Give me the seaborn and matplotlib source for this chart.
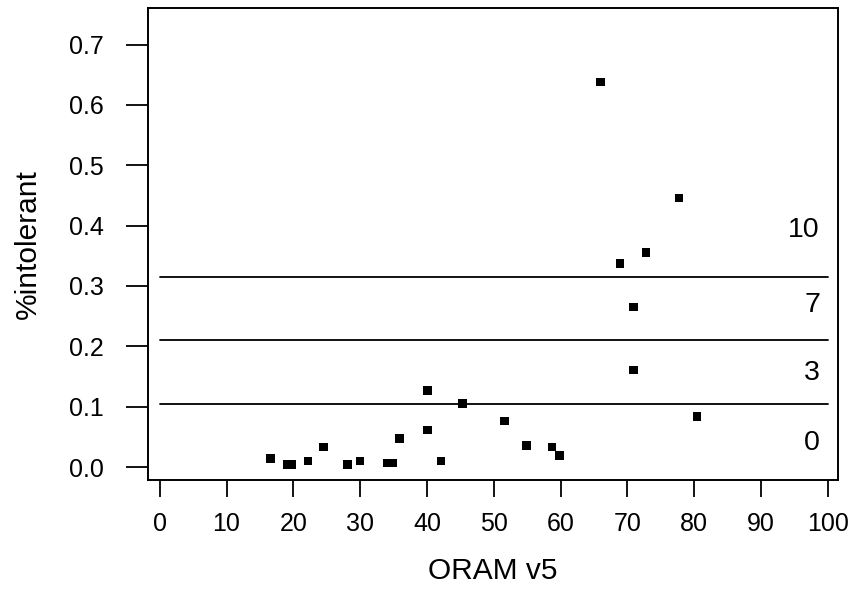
import matplotlib
matplotlib.use("Agg")
import matplotlib.pyplot as plt
import seaborn as sns
import pandas as pd

# ORAM v5 score and fraction of intolerant taxa per site
oram = [16.6, 19.1, 19.7, 22.2, 24.5, 28.1, 30.0, 34.0, 34.9, 35.9,
        40.1, 40.1, 42.1, 45.3, 51.6, 54.9, 58.7, 59.8, 66.0, 68.9,
        70.9, 70.9, 72.8, 77.7, 80.4]
intolerant = [0.014, 0.004, 0.004, 0.010, 0.033, 0.004, 0.010, 0.007, 0.007, 0.047,
              0.127, 0.061, 0.010, 0.105, 0.076, 0.036, 0.033, 0.019, 0.638, 0.337,
              0.265, 0.161, 0.355, 0.446, 0.084]

# Metric scoring breakpoints and the score assigned within each band
breaks = [0.105, 0.21, 0.315]
score_labels = ["10", "7", "3", "0"]
score_label_y = [0.392, 0.268, 0.156, 0.040]

x_ticks = list(range(0, 101, 10))
y_ticks = [0.0, 0.1, 0.2, 0.3, 0.4, 0.5, 0.6, 0.7]

df = pd.DataFrame({"ORAM v5": oram, "%intolerant": intolerant})

sns.set_style("white")
plt.rcParams["font.family"] = ["Liberation Sans", "DejaVu Sans"]
plt.rcParams["text.color"] = "black"
plt.rcParams["axes.labelcolor"] = "black"
plt.rcParams["xtick.color"] = "black"
plt.rcParams["ytick.color"] = "black"

fig = plt.figure(figsize=(8.54, 5.91), dpi=100)
ax = fig.add_axes([148 / 854, 1 - 480 / 591, 690 / 854, 472 / 591])

sns.scatterplot(data=df, x="ORAM v5", y="%intolerant", ax=ax,
                marker="s", s=38, color="black", edgecolor="none", linewidth=0)

for b in breaks:
    ax.plot([0, 100], [b, b], color="black", lw=1.3)

for lab, yy in zip(score_labels, score_label_y):
    ax.text(98.8, yy, lab, ha="right", va="center", fontsize=20.5, color="black")

ax.set_xlim(-1.75, 101.5)
ax.set_ylim(-0.0215, 0.7605)
ax.set_xticks(x_ticks)
ax.set_xticklabels([str(t) for t in x_ticks], fontsize=18)
ax.set_yticks(y_ticks)
ax.set_yticklabels([f"{t:.1f}" for t in y_ticks], fontsize=18)
ax.tick_params(axis="x", direction="out", length=12, width=1.3, pad=11,
               colors="black", bottom=True)
ax.tick_params(axis="y", direction="out", length=16, width=1.3, pad=16,
               colors="black", left=True)

for sp in ax.spines.values():
    sp.set_color("black")
    sp.set_linewidth(1.4)

ax.set_xlabel("ORAM v5", fontsize=21.5, labelpad=15, color="black")
ax.set_ylabel("%intolerant", fontsize=21.5, labelpad=19, color="black")

fig.savefig("out.png", dpi=100)
